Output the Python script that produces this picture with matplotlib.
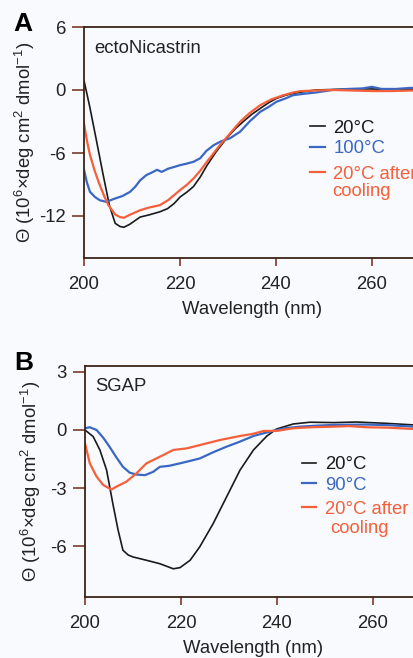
import numpy as np
import matplotlib
matplotlib.use("Agg")
import matplotlib.pyplot as plt

plt.rcParams['font.family'] = ['Liberation Sans', 'DejaVu Sans']
plt.rcParams['mathtext.fontset'] = 'custom'
plt.rcParams['mathtext.rm'] = 'Liberation Sans'
plt.rcParams['mathtext.default'] = 'regular'
plt.rcParams['axes.unicode_minus'] = False

# panel A: ectoNicastrin
a_wl_20 = [200, 201.2, 202.5, 204, 205.3, 206.5, 207.5, 208.3, 209.5, 211.7, 213.5, 215.8, 217.4, 218.8,
           220, 221.5, 222.8, 224.2, 225.6, 227.5, 229.7, 231.5, 233.2, 235, 236.7, 238.5, 240.1, 242,
           243.5, 246, 248.3, 252, 256, 260, 264, 268, 270]
a_20 = [0.9, -1.6, -4.6, -8.1, -11.0, -12.7, -13.0, -13.07, -12.8, -12.1, -11.9, -11.6, -11.3, -10.8,
        -10.2, -9.7, -9.2, -8.3, -7.2, -5.9, -4.6, -3.7, -3.0, -2.3, -1.76, -1.2, -0.8, -0.5,
        -0.33, -0.15, 0.0, 0.05, 0.1, 0.1, 0.05, 0.05, 0.05]

a_wl_100 = [200, 200.6, 201.25, 202.3, 203.3, 204.6, 205.5, 206.5, 208, 209.6, 210.7, 211.7, 213,
            214.4, 215.2, 216.2, 217.5, 219, 220, 221.5, 222.8, 224.2, 225.5, 227, 228.5, 230.4,
            232.5, 234.5, 236.7, 238.5, 240.1, 242, 243.5, 246, 248.3, 251.7, 255, 258, 260, 262,
            265, 268, 270]
a_100 = [-7.6, -8.8, -9.7, -10.2, -10.5, -10.65, -10.5, -10.33, -10.1, -9.7, -9.2, -8.6, -8.1,
         -7.8, -7.6, -7.8, -7.5, -7.3, -7.16, -7.0, -6.84, -6.5, -5.8, -5.26, -4.9, -4.6,
         -3.98, -3.0, -2.08, -1.6, -1.12, -0.8, -0.5, -0.35, -0.24, 0.0, 0.1, 0.15, 0.3, 0.1,
         0.1, 0.2, 0.2]

a_wl_cool = [200, 200.6, 201.25, 202.3, 203.3, 204.2, 205.1, 206.5, 207.5, 208.3, 209.5, 211.7,
             213.5, 215.8, 217.5, 220, 221.5, 222.8, 224.2, 225.6, 228.3, 230.5, 232.5, 234.5,
             236.7, 239, 241.5, 243.5, 245, 248, 252, 256, 260, 264, 268, 270]
a_cool = [-3.2, -4.8, -6.2, -7.8, -9.07, -10.1, -10.97, -11.86, -12.1, -12.17, -11.9, -11.45,
          -11.2, -10.97, -10.5, -9.54, -9.0, -8.43, -7.7, -6.84, -5.26, -4.1, -3.03, -2.2,
          -1.45, -0.9, -0.5, -0.25, -0.11, -0.05, 0.0, -0.05, -0.1, -0.1, -0.05, -0.05]

# panel B: SGAP
b_wl_20 = [200, 201.7, 203.1, 204.5, 205.8, 206.9, 207.9, 209, 210, 212.8, 215.6, 218.4, 219.8,
           221.9, 223.9, 226.7, 229.5, 232.3, 235.1, 237.9, 239.9, 243.4, 246.9, 251.8, 256.6,
           262.9, 268.5, 270]
b_20 = [0.0, -0.34, -1.03, -2.07, -3.8, -5.17, -6.2, -6.45, -6.55, -6.72, -6.9, -7.16, -7.1,
        -6.72, -6.03, -4.83, -3.45, -2.07, -1.03, -0.31, 0.05, 0.31, 0.4, 0.38, 0.41,
        0.34, 0.26, 0.25]

b_wl_90 = [200, 201, 202.4, 203.8, 205.1, 206.5, 207.9, 209.3, 210.7, 212.5, 214.2, 215.6,
           217.5, 219.8, 221.8, 223.9, 226.7, 229.5, 232.3, 235.1, 237.5, 239.9, 242, 244.8,
           248, 251.8, 255, 258.7, 263, 268.5, 270]
b_90 = [0.09, 0.14, 0.0, -0.4, -0.86, -1.4, -1.9, -2.2, -2.3, -2.33, -2.16, -1.9,
        -1.85, -1.72, -1.6, -1.47, -1.15, -0.86, -0.6, -0.31, -0.15, 0.0, 0.1, 0.17,
        0.22, 0.26, 0.27, 0.28, 0.25, 0.17, 0.17]

b_wl_cool = [200, 201, 202.4, 203.8, 205.5, 206.5, 208.6, 210.7, 212.8, 215.6, 218.4, 221.2,
             223.9, 228.1, 232.3, 235, 237.2, 239.9, 243.4, 247, 251.8, 255, 258.7, 263, 268.5, 270]
b_cool = [-0.69, -1.72, -2.4, -2.84, -3.07, -2.93, -2.67, -2.24, -1.72, -1.38, -1.03, -0.95,
          -0.78, -0.52, -0.31, -0.2, -0.05, -0.05, 0.09, 0.14, 0.17, 0.2, 0.14, 0.12, 0.05, 0.05]

bg = '#f8fafd'
spine_c = '#3a2418'
tick_c = '#7a3a28'
txt_c = '#222222'
black = '#1a1a1a'
blue = '#3b67c4'
red = '#f5603a'
fs = 13.3

fig = plt.figure(figsize=(4.14, 6.58), dpi=100, facecolor=bg)
axA = fig.add_axes([84 / 414, 400 / 658, 336 / 414, 231 / 658])
axB = fig.add_axes([85 / 414, 61.3 / 658, 336 / 414, 230.7 / 658])

ylabel = r'Θ (10$^{6}$×deg cm$^{2}$ dmol$^{-1}$)'


def style(ax, ylim, yticks, title, title_y, ylab_x, xlab_pad):
    ax.set_facecolor(bg)
    ax.set_xlim(200, 270)
    ax.set_ylim(*ylim)
    ax.set_xticks([200, 220, 240, 260])
    ax.set_yticks(yticks)
    ax.tick_params(axis='both', direction='out', colors=tick_c, labelcolor=txt_c,
                   labelsize=fs, width=1.2)
    ax.tick_params(axis='y', length=9, pad=4)
    ax.tick_params(axis='x', length=6, pad=7)
    for s in ['left', 'top', 'bottom']:
        ax.spines[s].set_color(spine_c)
        ax.spines[s].set_linewidth(1.3)
    ax.spines['right'].set_visible(False)
    ax.set_xlabel('Wavelength (nm)', fontsize=fs, color=txt_c, labelpad=xlab_pad)
    ax.set_ylabel(ylabel, fontsize=fs, color=txt_c)
    ax.yaxis.set_label_coords(ylab_x, 0.5)
    ax.text(0.03, title_y, title, transform=ax.transAxes, fontsize=fs, color=txt_c,
            va='center', ha='left')


def legends(ax, lines, x, y1, y2, cool_x, cool_y):
    kw = dict(loc='upper left', frameon=False, fontsize=fs, handlelength=0.8,
              handletextpad=0.45, labelspacing=0.2, borderpad=0, borderaxespad=0,
              labelcolor='linecolor')
    leg1 = ax.legend(handles=lines[:2], bbox_to_anchor=(x, y1), **kw)
    ax.add_artist(leg1)
    ax.legend(handles=lines[2:], bbox_to_anchor=(x, y2), **kw)
    ax.text(cool_x, cool_y, 'cooling', transform=ax.transAxes, fontsize=fs, color=red,
            va='center', ha='left')


la = axA.plot(a_wl_20, a_20, color=black, lw=1.2, label='20°C')
la += axA.plot(a_wl_100, a_100, color=blue, lw=1.6, label='100°C')
la += axA.plot(a_wl_cool, a_cool, color=red, lw=1.6, label='20°C after')
style(axA, (-16, 6), [-12, -6, 0, 6], 'ectoNicastrin', 0.905, -0.14, 6)
legends(axA, la, 0.673, 0.599, 0.40, 0.738, 0.286)

lb = axB.plot(b_wl_20, b_20, color=black, lw=1.2, label='20°C')
lb += axB.plot(b_wl_90, b_90, color=blue, lw=1.6, label='90°C')
lb += axB.plot(b_wl_cool, b_cool, color=red, lw=1.6, label='20°C after')
style(axB, (-8.6, 3.3), [-6, -3, 0, 3], 'SGAP', 0.913, -0.125, 6)
legends(axB, lb, 0.645, 0.610, 0.415, 0.731, 0.296)

fig.text(13 / 414, 1 - 12 / 658, 'A', fontsize=19, fontweight='bold', va='top', ha='left')
fig.text(14 / 414, 1 - 351 / 658, 'B', fontsize=19, fontweight='bold', va='top', ha='left')

fig.savefig('out.png', dpi=100, facecolor=bg)
